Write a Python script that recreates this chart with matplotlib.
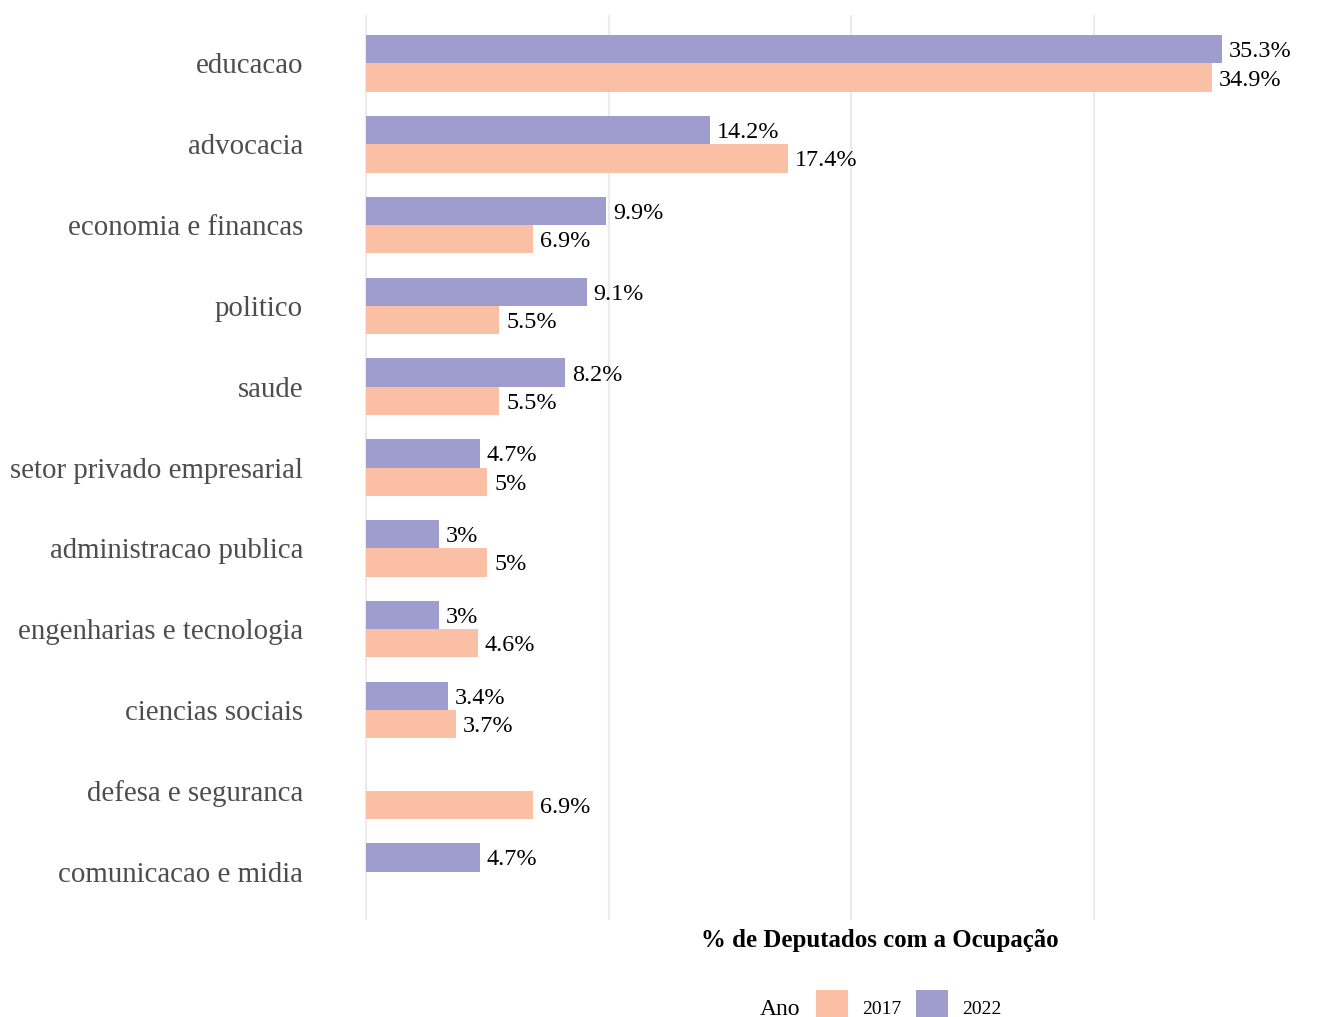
import numpy as np
import matplotlib
matplotlib.use('Agg')
import matplotlib.pyplot as plt
from matplotlib.patches import Rectangle

plt.rcParams['font.family'] = ['Liberation Serif', 'DejaVu Serif']

categorias = ['educacao', 'advocacia', 'economia e financas', 'politico', 'saude',
              'setor privado empresarial', 'administracao publica',
              'engenharias e tecnologia', 'ciencias sociais', 'defesa e seguranca',
              'comunicacao e midia']
v2022 = [35.3, 14.2, 9.9, 9.1, 8.2, 4.7, 3.0, 3.0, 3.4, None, 4.7]
v2017 = [34.9, 17.4, 6.9, 5.5, 5.5, 5.0, 5.0, 4.6, 3.7, 6.9, None]
anos = ['2017', '2022']

cor2017 = '#fbbfa6'
cor2022 = '#9e9dcd'

W, H = 1331, 1017
fig = plt.figure(figsize=(W/100, H/100), dpi=100)
# panel in pixel coords: left 310, right 1331, top 15, bottom 920
ax = fig.add_axes([310/W, 1-920/H, (W-310)/W, (920-15)/H])

pxpct = 24.25
ax.set_xlim(-(366-310)/pxpct, (W-366)/pxpct)
ax.set_ylim(len(categorias)-1+0.6, -0.6)

y = np.arange(len(categorias))
bw = 0.35
for i in range(len(categorias)):
    for val, off, cor in [(v2022[i], -bw/2, cor2022), (v2017[i], bw/2, cor2017)]:
        if val is None:
            continue
        ax.barh(y[i]+off, val, height=bw, color=cor, zorder=2)
        ax.text(val+0.28, y[i]+off, '{:g}%'.format(val), va='center_baseline', ha='left',
                fontsize=17.4, color='black', zorder=3)

for gx in [0, 10, 20, 30]:
    ax.axvline(gx, color='#ebebeb', lw=1.6, zorder=1)

ax.set_yticks(y)
ax.set_yticklabels(categorias, fontsize=20.8, color='#4d4d4d')
ax.tick_params(axis='y', length=0, pad=5)
ax.set_xticks([])
for s in ax.spines.values():
    s.set_visible(False)

fig.text(880/W, 1-941/H, '% de Deputados com a Ocupação', ha='center', va='center',
         fontsize=17.9, fontweight='bold', color='black')

# legend
fig.text(780/W, 1-1007/H, 'Ano', ha='center', va='center_baseline', fontsize=17, color='black')
for x0, cor, lab in [(816, cor2017, anos[0]), (916, cor2022, anos[1])]:
    fig.patches.append(Rectangle((x0/W, 1-1019/H), 32/W, 29/H, transform=fig.transFigure,
                                 facecolor=cor, edgecolor='none'))
    fig.text((x0+46)/W, 1-1007/H, lab, ha='left', va='center_baseline', fontsize=14, color='black')

fig.savefig('out.png', dpi=100)
